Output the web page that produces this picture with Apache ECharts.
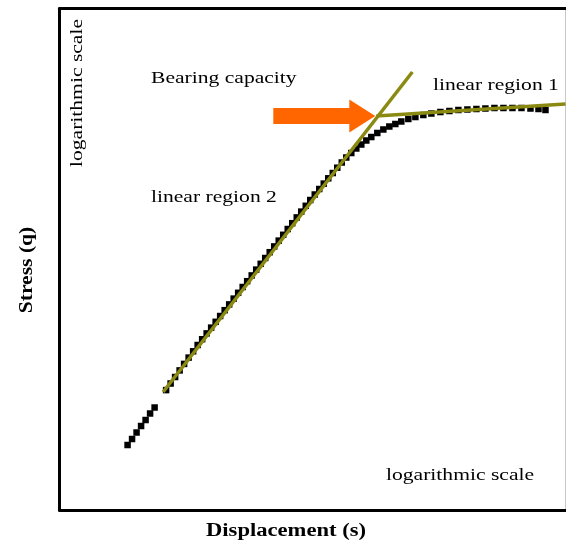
<!DOCTYPE html>
<html>
<head>
<meta charset="utf-8">
<script src="https://cdn.jsdelivr.net/npm/echarts@6/dist/echarts.min.js"></script>
<style>
html,body{margin:0;padding:0;background:#fff;}
#chart{width:566px;height:547px;}
</style>
</head>
<body>
<div id="chart"></div>
<script>
const displacement = [2.533, 2.693, 2.864, 3.046, 3.239, 3.444, 3.663,
  4.286, 4.558, 4.847, 5.154, 5.481, 5.829, 6.199, 6.592, 7.010, 7.454, 7.927, 8.430, 8.964, 9.533,
  10.14, 10.78, 11.46, 12.19, 12.96, 13.79, 14.66, 15.59, 16.58, 17.63, 18.75, 19.94, 21.20, 22.55,
  23.98, 25.50, 27.12, 28.84, 30.66, 32.61, 34.68, 36.88, 39.22, 41.70, 44.35, 47.16, 50.15,
  53.70, 57.50, 61.56, 65.92, 70.58, 76.60, 83.16, 90.26, 97.97, 106.3, 117.0, 128.8, 143.6, 160.2,
  181.2, 204.9, 231.7, 262.1, 296.4, 335.1, 379.0, 428.6, 484.7, 548.1, 619.9, 691.5, 760.8];
const stress = [2.448, 2.659, 2.908, 3.180, 3.454, 3.778, 4.103,
  5.215, 5.711, 6.246, 6.840, 7.481, 8.159, 8.899, 9.706, 10.51, 11.39, 12.33, 13.36, 14.47, 15.68,
  16.98, 18.39, 19.92, 21.58, 23.37, 25.31, 27.42, 29.70, 32.17, 34.85, 37.74, 40.88, 44.28, 47.96,
  51.96, 56.28, 60.96, 66.03, 71.52, 77.15, 83.22, 89.64, 96.43, 103.7, 111.6, 119.9, 128.4,
  136.6, 145.4, 153.6, 162.3, 170.3, 180.0, 188.9, 196.8, 203.7, 210.9, 218.3, 224.3, 230.6, 235.4,
  240.3, 243.7, 247.1, 248.8, 250.5, 252.2, 254.0, 254.0, 254.0, 254.0, 252.2, 250.5, 247.1];
// Fitted straight lines (linear region 2 = steep, linear region 1 = flat)
const fit2Disp = [4.114, 123.6];
const fit2Stress = [5.080, 417.0];
const fit1Disp = [75.56, 1000];
const fit1Stress = [227.5, 268.3];
// Bearing capacity = intersection of the two fits
const bearingPoint = [75.56, 227.5];
// Axis ranges (logarithmic)
const xRange = [1, 1000];
const yRange = [1, 1000];
// Texts
const xTitle = 'Displacement (s)';
const yTitle = 'Stress (q)';
const scaleNote = 'logarithmic scale';
const labelBearing = 'Bearing capacity';
const labelRegion1 = 'linear region 1';
const labelRegion2 = 'linear region 2';

const chart = echarts.init(document.getElementById('chart'), null, {renderer: 'canvas'});
const olive = '#8a8a12';
const serif = '"Liberation Serif", "Times New Roman", serif';
const SX = 1.27;

function pts(xs, ys){ return xs.map((x, i) => [x, ys[i]]); }

const hidden = {axisLabel:{show:false}, axisTick:{show:false}, splitLine:{show:false}};

chart.setOption({
  animation: false,
  backgroundColor: '#fff',
  grid: {left: 59.5, top: 8.5, width: 506, bottom: 37, containLabel: false},
  xAxis: [
    Object.assign({type:'log', logBase:10, min:xRange[0], max:xRange[1], position:'bottom',
      axisLine:{onZero:false, lineStyle:{color:'#000', width:3}}}, hidden),
    Object.assign({type:'log', logBase:10, min:xRange[0], max:xRange[1], position:'top',
      axisLine:{onZero:false, lineStyle:{color:'#000', width:3}}}, hidden)
  ],
  yAxis: [
    Object.assign({type:'log', logBase:10, min:yRange[0], max:yRange[1], position:'left',
      axisLine:{onZero:false, lineStyle:{color:'#000', width:3}}}, hidden),
    Object.assign({type:'log', logBase:10, min:yRange[0], max:yRange[1], position:'right',
      axisLine:{onZero:false, lineStyle:{color:'#c8c8c8', width:1}}}, hidden)
  ],
  series: [
    {type:'scatter', xAxisIndex:0, yAxisIndex:0, data: pts(displacement, stress),
     symbol:'rect', symbolSize:6.5, itemStyle:{color:'#000', opacity:1}, z:2, silent:true},
    {type:'line', xAxisIndex:0, yAxisIndex:0, data: pts(fit2Disp, fit2Stress),
     symbol:'none', lineStyle:{color:olive, width:3.5, opacity:1}, z:3, silent:true},
    {type:'line', xAxisIndex:0, yAxisIndex:0, data: pts(fit1Disp, fit1Stress),
     symbol:'none', lineStyle:{color:olive, width:3.5, opacity:1}, z:3, silent:true}
  ]
});

function txt(text, x, y, opt){
  opt = opt || {};
  return {
    type:'text', x:x, y:y, rotation: opt.rotation || 0, scaleX: opt.scaleX || SX, z: 10, silent:true,
    style:{text:text, fill:'#000',
      font: (opt.bold ? 'bold ' : '') + (opt.size || 17) + 'px ' + serif,
      align: opt.align || 'left', verticalAlign:'middle',
      textAlign: opt.align || 'left', textVerticalAlign:'middle'}
  };
}

const tip = chart.convertToPixel({gridIndex:0}, bearingPoint);
const ax = tip[0] - 1, ay = tip[1];
const arrow = {
  type:'polygon', z: 5, silent:true,
  shape:{points:[
    [ax - 102, ay - 8], [ax - 26, ay - 8], [ax - 26, ay - 16.5], [ax, ay],
    [ax - 26, ay + 16.5], [ax - 26, ay + 8], [ax - 102, ay + 8]
  ]},
  style:{fill:'#ff6600'}
};

chart.setOption({
  graphic: [
    arrow,
    txt(labelBearing, 151, 78.5),
    txt(labelRegion1, 433, 86),
    txt(labelRegion2, 151, 197.5),
    txt(scaleNote, 386, 476),
    txt(scaleNote, 78, 93, {rotation: Math.PI/2, align:'center'}),
    txt(xTitle, 286, 531, {bold:true, size:18, scaleX:1.255, align:'center'}),
    txt(yTitle, 27, 270, {bold:true, size:18, scaleX:1.2, align:'center', rotation: Math.PI/2})
  ]
});
</script>
</body>
</html>
